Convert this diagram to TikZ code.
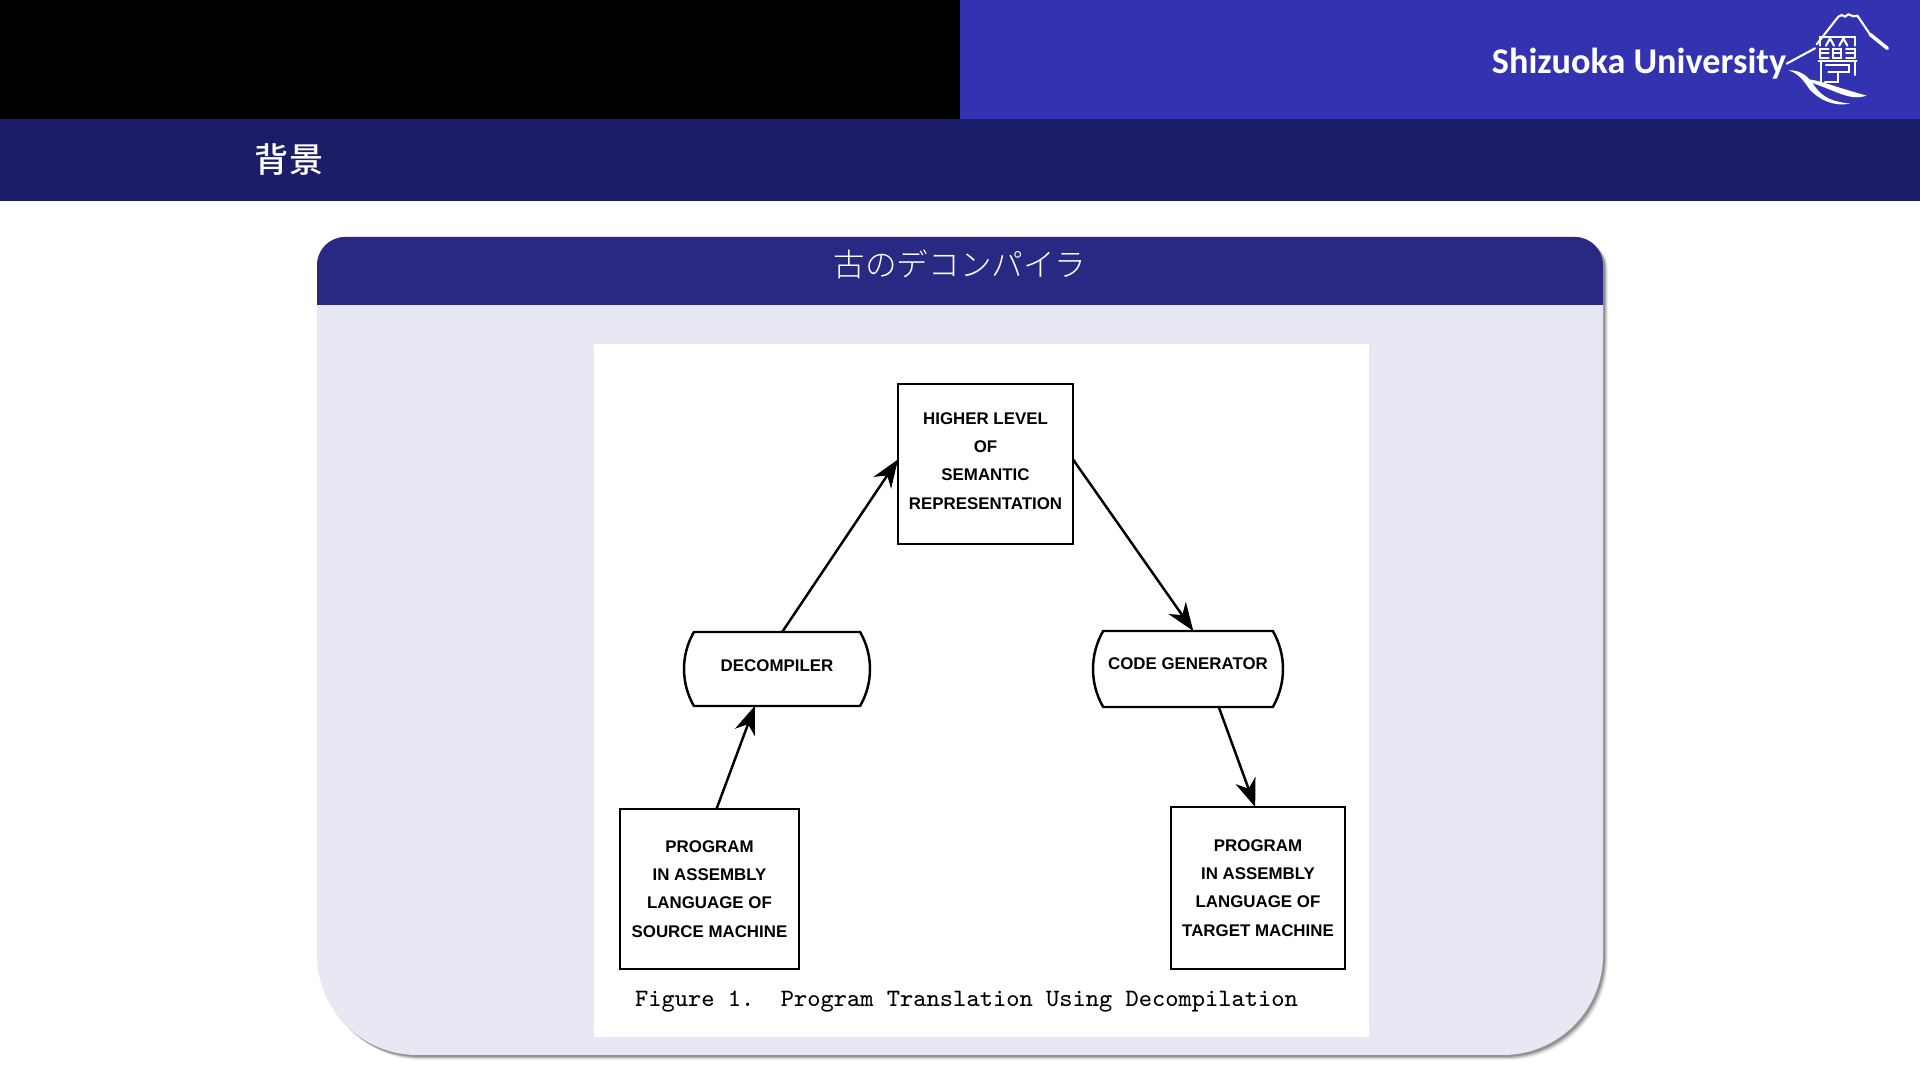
\documentclass[tikz,border=0pt]{standalone}
\usepackage{fontspec}
\usetikzlibrary{arrows.meta,shapes.misc}
\newfontfamily\cjkthin{Noto Sans CJK JP Light}
\newfontfamily\cjkmedium{Noto Sans CJK JP Medium}
\newfontfamily\unifont{Carlito}
\newfontfamily\figfont{Liberation Sans}
\definecolor{barblue}{RGB}{51,51,178}
\definecolor{bardark}{RGB}{27,29,105}
\definecolor{headblue}{RGB}{41,40,130}
\definecolor{blockbg}{RGB}{231,232,243}
\newcommand{\blockoutline}{(317,600) [rounded corners=.28cm] -- (317,237) -- (1603,237) -- (1603,600)
  [rounded corners=1cm] -- (1603,1055) -- (317,1055) -- (317,600)}
\begin{document}
\begin{tikzpicture}
        [x=0.01cm,y=-0.01cm,
        boxdecorate/.style={shape=rectangle,draw,line width=0.7pt,outer sep=0pt,inner sep=0pt,
          align=center,font=\figfont\bfseries\fontsize{4.8}{8}\selectfont},
        procdecorate/.style={boxdecorate,shape=rounded rectangle,rounded rectangle arc length=60},
        arrowdecorate/.style={-{Stealth[length=8pt,width=6pt,inset=2.5pt]},line width=0.7pt},
        logodecorate/.style={draw=white,line width=0.6pt,line cap=round}]
        \useasboundingbox (0,0) rectangle (1920,1080);
        %% slide header
        \fill[white] (0,0) rectangle (1920,1080);
        \fill[black] (0,0) rectangle (960,119);
        \fill[barblue] (960,0) rectangle (1920,119);
        \fill[bardark] (0,119) rectangle (1920,201);
        \node (university) at (1639,64) [text=white,font=\unifont\bfseries\fontsize{10.3}{12}\selectfont] {Shizuoka University};
        \node (section) at (289,160) [text=white,font=\cjkmedium\fontsize{9.7}{11}\selectfont] {背景};
        %% logo
        \begin{scope}[shift={(1770,5)},x=0.01cm/3,y=-0.01cm/3]
          \draw[logodecorate] (50,176) -- (135,130);
          \draw[logodecorate] (140,118) -- (205,35) -- (215,30) -- (225,35) -- (235,28) -- (250,34) -- (262,32) -- (300,88);
          \draw[logodecorate,line width=1pt] (300,88) -- (352,130);
          %% the seal
          \draw[logodecorate] (150,122) -- (150,95) -- (256,95) -- (256,122);
          \draw[logodecorate] (168,122) -- (180,100) -- (192,122) (208,122) -- (220,100) -- (232,122);
          \foreach \x in {150,188,228}
          {
            \draw[logodecorate,line width=0.5pt] (\x,131) -- (\x+26,131) (\x,145) -- (\x+26,145) (\x,159) -- (\x+26,159);
          }
          \draw[logodecorate,line width=0.5pt] (188,131) -- (188,159) (214,131) -- (214,159) (150,131) -- (150,159) (254,131) -- (254,159);
          \draw[logodecorate] (146,168) -- (260,168);
          \draw[logodecorate] (152,168) -- (152,230) (254,168) -- (254,210);
          \draw[logodecorate] (168,180) -- (238,180) -- (238,202) -- (175,202) (205,202) -- (205,230) -- (165,230);
          %% the waves
          \fill[white] (55,196) .. controls (95,195) and (115,215) .. (135,245) .. controls (160,280) and (190,290) .. (240,296) .. controls (190,305) and (150,285) .. (120,255) .. controls (100,225) and (85,205) .. (55,196) -- cycle;
          \fill[white] (105,222) .. controls (150,225) and (175,240) .. (290,272) .. controls (250,285) and (220,270) .. (170,250) .. controls (145,240) and (125,235) .. (105,222) -- cycle;
        \end{scope}
        %% block
        \foreach \shift/\op in {5/0.06,4/0.1,3/0.14,2/0.2}
        {
          \fill[black,opacity=\op,xshift=\shift*0.01cm,yshift=-\shift*0.01cm] \blockoutline;
        }
        \fill[blockbg] \blockoutline;
        \fill[headblue] (317,305) [rounded corners=.28cm] -- (317,237) -- (1603,237) -- (1603,305);
        \node (blocktitle) at (960,264) [text=white,font=\cjkthin\fontsize{9}{11}\selectfont] {古のデコンパイラ};
        \fill[white] (594,344) rectangle (1369,1037);
        %% nodes or vertices
        \foreach \nodename/\x/\y/\w/\h/\style/\drop/\lines in {
          top/985.5/464/175/160/boxdecorate/1.7/{HIGHER LEVEL\\OF\\SEMANTIC\\REPRESENTATION},
          dec/777/669/186/74/procdecorate/2.1/{DECOMPILER},
          gen/1188/669/190/76/procdecorate/2.8/{CODE GENERATOR},
          src/709.5/889/179/160/boxdecorate/0/{PROGRAM\\IN ASSEMBLY\\LANGUAGE OF\\SOURCE MACHINE},
          tgt/1258/888/174/162/boxdecorate/0/{PROGRAM\\IN ASSEMBLY\\LANGUAGE OF\\TARGET MACHINE}}
        {
          \node (\nodename) at (\x,\y) [\style,text depth=\drop pt,minimum width=\w*0.01cm,minimum height=\h*0.01cm] {\lines};
        }
        \node (caption) at (966.5,1002) [font=\ttfamily\fontsize{7.1}{9}\selectfont] {Figure 1.\ \ Program Translation Using Decompilation};
        %% edges or lines
        \path
        \foreach \startnode/\endnode in {src.85.4/dec.239.3,
          dec.82.3/top.177.4, top.3.3/gen.82.5, gen.309.2/tgt.92.1}
        {
          (\startnode) edge[arrowdecorate] (\endnode)
        };
      \end{tikzpicture}
\end{document}
